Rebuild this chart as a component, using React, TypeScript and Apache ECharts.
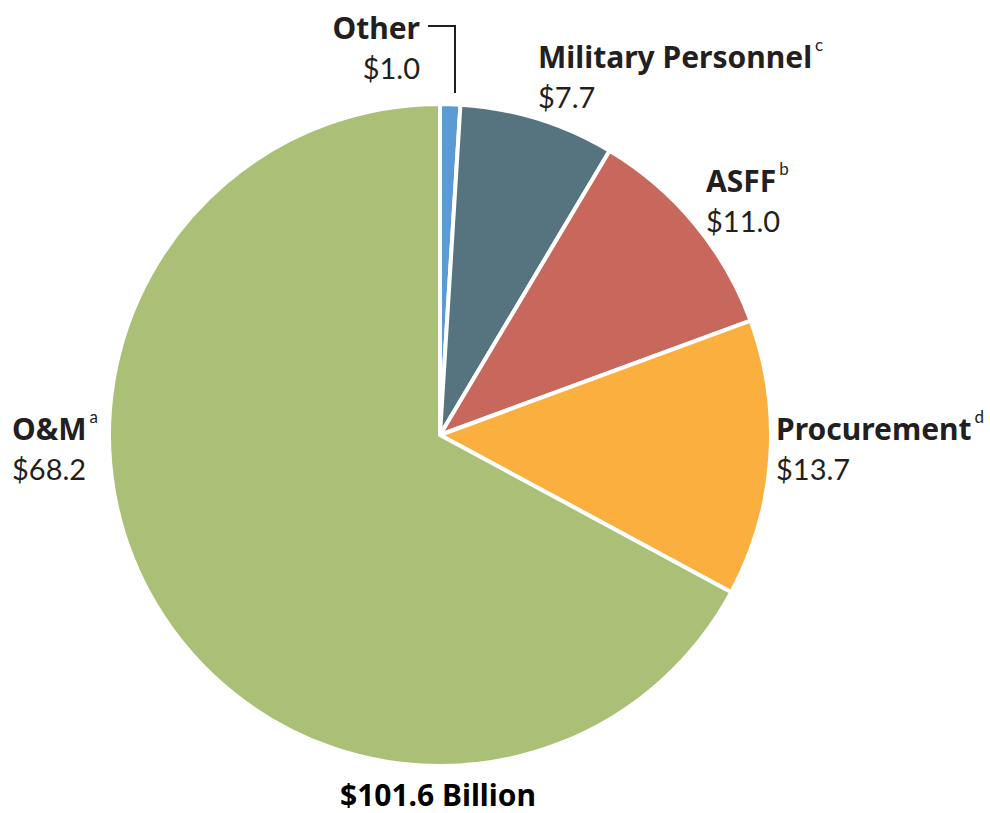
import React, { useEffect, useRef } from "react";
import * as echarts from "echarts";

const categories = ["Other", "Military Personnel", "ASFF", "Procurement", "O&M"];
const values = [1.0, 7.7, 11.0, 13.7, 68.2];
const notes = ["", "c", "b", "d", "a"];
const colors = ["#5b9bd5", "#557480", "#c8685c", "#fbaf3f", "#abc077"];
const totalLabel = "$101.6 Billion";

const BOLD_FONT = "Noto Sans";
const FONT = "Lato";

export default function App() {
  const ref = useRef<HTMLDivElement>(null);
  useEffect(() => {
    const chart = echarts.init(ref.current!, null, { renderer: "svg" });
    // label anchor: [x, y (center of first line), align]
    const anchors: [number, number, string][] = [
      [420, 27, "right"],
      [538, 56, "left"],
      [706, 180, "left"],
      [776, 428, "left"],
      [12, 428, "left"],
    ];
    const labelGraphics = categories.map((c, i) => ({
      type: "text",
      x: anchors[i][0],
      y: anchors[i][1] - 20,
      style: {
        text: `{b|${c}}${notes[i] ? `{s|${notes[i]}}` : ""}\n{v|$${values[i].toFixed(1)}}`,
        align: anchors[i][2],
        verticalAlign: "top",
        rich: {
          b: { fontFamily: BOLD_FONT, fontWeight: "bold", fontSize: 30, lineHeight: 40, fill: "#231f20" },
          s: { fontFamily: FONT, fontSize: 17, lineHeight: 36, fill: "#231f20", verticalAlign: "top", padding: [0, 0, 0, 3] },
          v: { fontFamily: FONT, fontSize: 29, lineHeight: 40, fill: "#231f20" },
        },
      },
    }));
    chart.setOption({
      animation: false,
      backgroundColor: "#ffffff",
      series: [
        {
          type: "pie",
          center: [440, 435],
          radius: [0, 331],
          startAngle: 90,
          clockwise: true,
          label: { show: false },
          labelLine: { show: false },
          itemStyle: { borderColor: "#ffffff", borderWidth: 4 },
          data: categories.map((c, i) => ({ name: c, value: values[i], itemStyle: { color: colors[i] } })),
        },
      ],
      graphic: [
        ...labelGraphics,
        {
          type: "polyline",
          shape: { points: [[428, 26], [455, 26], [455, 93]] },
          style: { stroke: "#231f20", lineWidth: 2, fill: null },
        },
        {
          type: "text",
          x: 438,
          y: 794,
          style: {
            text: totalLabel,
            align: "center",
            verticalAlign: "middle",
            fontFamily: BOLD_FONT,
            fontWeight: "bold",
            fontSize: 30,
            fill: "#000000",
          },
        },
      ],
    });
    return () => chart.dispose();
  }, []);
  return <div ref={ref} style={{ width: 990, height: 813, position: "absolute", left: 0, top: 0 }} />;
}
